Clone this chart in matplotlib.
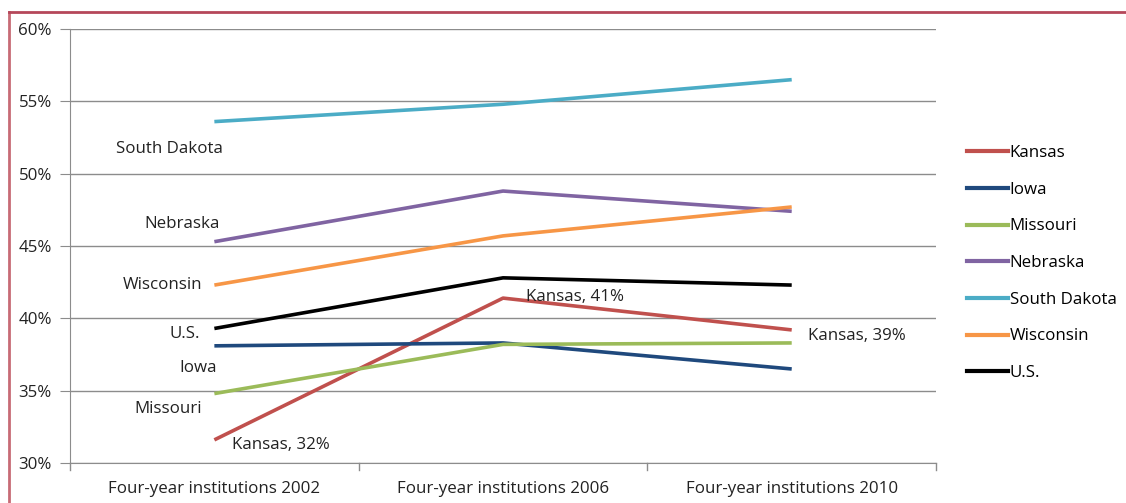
import matplotlib
matplotlib.use("Agg")
import matplotlib.pyplot as plt
from matplotlib.lines import Line2D
from matplotlib.ticker import FuncFormatter, FixedLocator

plt.rcParams['font.family'] = ['Open Sans', 'DejaVu Sans']

categories = ["Four-year institutions 2002", "Four-year institutions 2006", "Four-year institutions 2010"]
series_names = ["Kansas", "Iowa", "Missouri", "Nebraska", "South Dakota", "Wisconsin", "U.S."]
kansas = [31.6, 41.4, 39.2]
iowa = [38.1, 38.3, 36.5]
missouri = [34.8, 38.2, 38.3]
nebraska = [45.3, 48.8, 47.4]
south_dakota = [53.6, 54.8, 56.5]
wisconsin = [42.3, 45.7, 47.7]
us = [39.3, 42.8, 42.3]
yticks = [30, 35, 40, 45, 50, 55, 60]

values = [kansas, iowa, missouri, nebraska, south_dakota, wisconsin, us]
colors = ["#C0504D", "#1F497D", "#9BBB59", "#8064A2", "#4BACC6", "#F79646", "#000000"]

fig = plt.figure(figsize=(11.26, 5.03), dpi=100)
ax = fig.add_axes([0.0622, 0.0795, 0.7691, 0.8628])
x = list(range(len(categories)))
for name, vals, c in zip(series_names, values, colors):
    ax.plot(x, vals, color=c, lw=2.6, label=name, solid_capstyle='butt', zorder=3)

fs = 12.2
tc = '#222222'
ax.set_xlim(-0.5, 2.5)
ax.set_ylim(30, 60)
ax.yaxis.set_major_locator(FixedLocator(yticks))
ax.yaxis.set_major_formatter(FuncFormatter(lambda v, p: f"{int(v)}%"))
ax.grid(axis='y', color='#8c8c8c', lw=1.0)
ax.set_axisbelow(True)
for s in ['top', 'right']:
    ax.spines[s].set_visible(False)
ax.spines['left'].set_color('#8c8c8c')
ax.spines['bottom'].set_color('#8c8c8c')
ax.tick_params(axis='y', length=7, color='#8c8c8c', labelsize=fs, pad=6, labelcolor=tc)
ax.set_xticks(x)
ax.set_xticklabels(categories, fontsize=fs, color=tc)
ax.tick_params(axis='x', length=0, pad=13)
for b in [-0.5, 0.5, 1.5, 2.5]:
    ax.plot([b, b], [30, 29.5], color='#8c8c8c', lw=1, clip_on=False)

ax.text(-0.154, 51.7, "South Dakota", fontsize=fs, color=tc, ha='center', va='center')
ax.text(0.02, 46.5, "Nebraska", fontsize=fs, color=tc, ha='right', va='center')
ax.text(-0.043, 42.3, "Wisconsin", fontsize=fs, color=tc, ha='right', va='center')
ax.text(-0.05, 38.9, "U.S.", fontsize=fs, color=tc, ha='right', va='center')
ax.text(0.009, 36.55, "Iowa", fontsize=fs, color=tc, ha='right', va='center')
ax.text(-0.043, 33.7, "Missouri", fontsize=fs, color=tc, ha='right', va='center')
ax.text(0.061, 31.25, "Kansas, 32%", fontsize=fs, color=tc, ha='left', va='center')
ax.text(1.08, 41.45, "Kansas, 41%", fontsize=fs, color=tc, ha='left', va='center')
ax.text(2.056, 38.75, "Kansas, 39%", fontsize=fs, color=tc, ha='left', va='center')

handles = [Line2D([0], [0], color=c, lw=3) for c in colors]
fig.legend(handles, series_names, loc='upper left', bbox_to_anchor=(0.853, 0.725),
           frameon=False, fontsize=fs, handlelength=2.4, handletextpad=0.1,
           labelspacing=1.22, borderaxespad=0)

# red page border
fig.add_artist(Line2D([0.008, 0.008], [0, 0.976], transform=fig.transFigure, color='#C76B76', lw=2))
fig.add_artist(Line2D([0.008, 1.0], [0.976, 0.976], transform=fig.transFigure, color='#B5475A', lw=2))

fig.savefig("out.png", dpi=100)
